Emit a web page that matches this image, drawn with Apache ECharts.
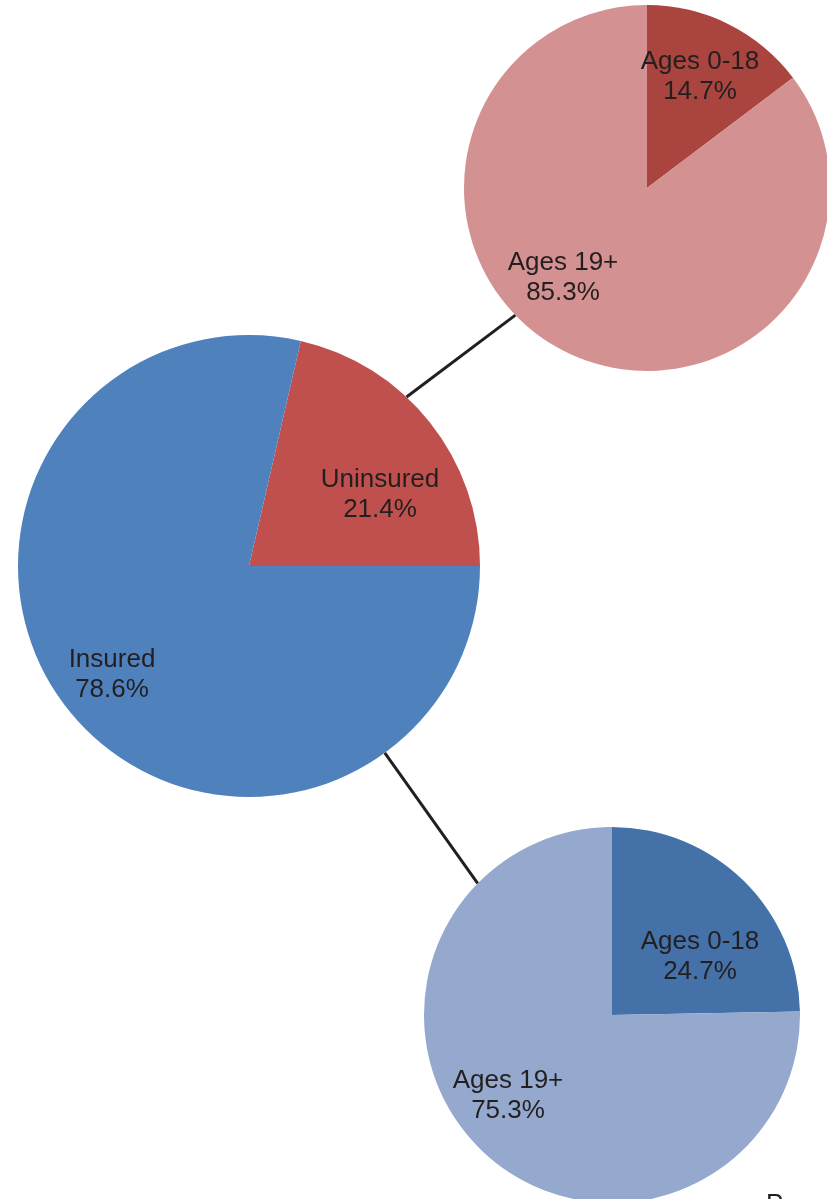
<!DOCTYPE html>
<html>
<head>
<meta charset="utf-8">
<script src="https://cdn.jsdelivr.net/npm/echarts@6/dist/echarts.min.js"></script>
<style>
  html, body { margin: 0; padding: 0; background: #fff; }
  #chart { width: 827px; height: 1199px; }
</style>
</head>
<body>
<div id="chart"></div>
<script>
// data
const mainNames = ['Uninsured', 'Insured'];
const mainValues = [21.4, 78.6];
const uninsuredNames = ['Ages 0-18', 'Ages 19+'];
const uninsuredValues = [14.7, 85.3];
const insuredNames = ['Ages 0-18', 'Ages 19+'];
const insuredValues = [24.7, 75.3];

// layout of the three pies (pixels)
const pies = [
  { center: [249, 566], r: 231, colors: ['#C0504D', '#4F81BD'], labels: [[380, 495], [112, 675]] },
  { center: [647, 188], r: 183, colors: ['#A9443F', '#D49191'], labels: [[700, 77], [563, 278]] },
  { center: [612, 1015], r: 188, colors: ['#4472A8', '#95A9CE'], labels: [[700, 957], [508, 1096]] }
];

const chart = echarts.init(document.getElementById('chart'));

// point on a pie's edge at a given angle (degrees, counter-clockwise from east)
function edge(p, deg) {
  const a = deg * Math.PI / 180;
  return [p.center[0] + p.r * Math.cos(a), p.center[1] - p.r * Math.sin(a)];
}

function makeSeries(idx, names, values, startAngle) {
  const p = pies[idx];
  return {
    type: 'pie',
    center: p.center,
    radius: p.r,
    startAngle: startAngle,
    clockwise: true,
    silent: true,
    data: names.map((n, i) => ({
      name: n,
      value: values[i],
      itemStyle: { color: p.colors[i] }
    })),
    label: {
      show: true,
      position: 'inside',
      formatter: (d) => d.name + '\n' + d.value.toFixed(1) + '%',
      fontFamily: 'Liberation Sans, Arial, sans-serif',
      fontSize: 26,
      lineHeight: 30,
      color: '#231F20',
      align: 'center'
    },
    labelLine: { show: false },
    labelLayout: (params) => ({
      x: p.labels[params.dataIndex][0],
      y: p.labels[params.dataIndex][1],
      align: 'center',
      verticalAlign: 'middle'
    })
  };
}

const l1a = edge(pies[0], 47), l1b = edge(pies[1], -136);
const l2a = edge(pies[0], -54), l2b = edge(pies[2], 135.6);

chart.setOption({
  animation: false,
  backgroundColor: '#fff',
  series: [
    makeSeries(0, mainNames, mainValues, 360 * mainValues[0] / 100),
    makeSeries(1, uninsuredNames, uninsuredValues, 90),
    makeSeries(2, insuredNames, insuredValues, 90)
  ],
  graphic: [
    {
      type: 'line', z: 100,
      shape: { x1: l1a[0], y1: l1a[1], x2: l1b[0], y2: l1b[1] },
      style: { stroke: '#231F20', lineWidth: 3 }
    },
    {
      type: 'line', z: 100,
      shape: { x1: l2a[0], y1: l2a[1], x2: l2b[0], y2: l2b[1] },
      style: { stroke: '#231F20', lineWidth: 3 }
    },
    {
      type: 'text', left: 766, top: 1192,
      style: { text: 'P', fontFamily: 'Liberation Sans, Arial, sans-serif', fontSize: 26, fill: '#231F20' }
    }
  ]
});
</script>
</body>
</html>
